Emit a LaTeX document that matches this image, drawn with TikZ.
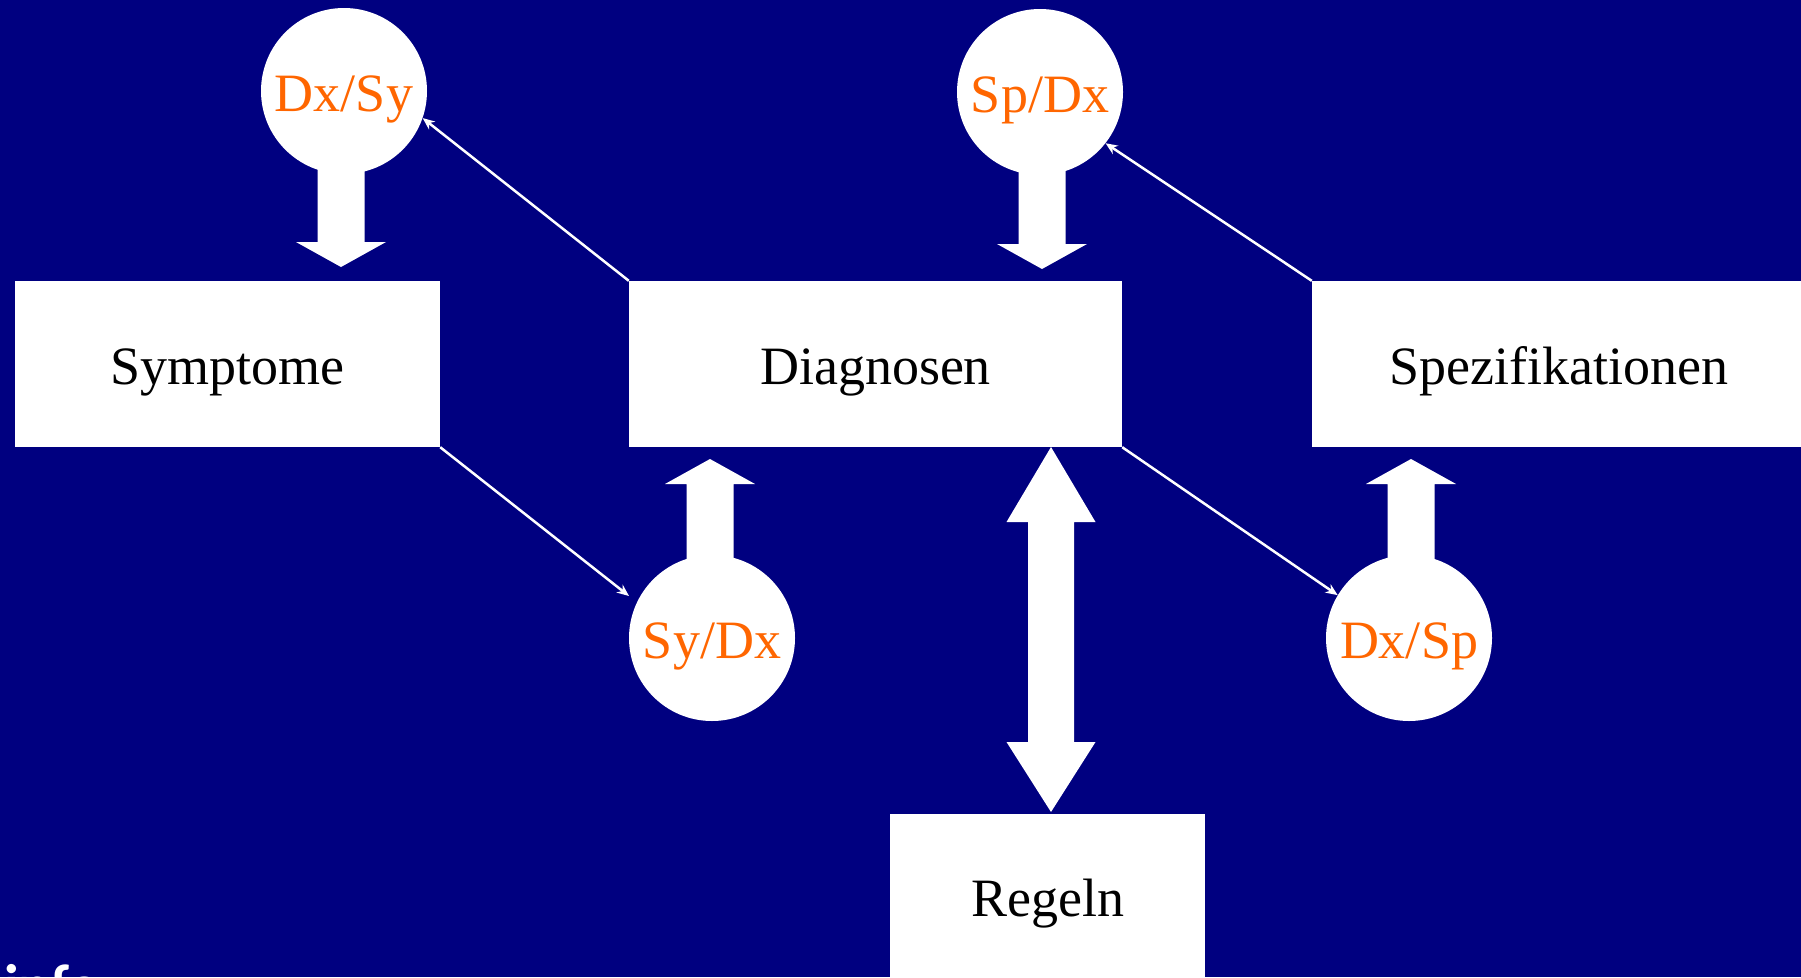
\documentclass[tikz,border=0pt]{standalone}
\usepackage{fontspec}
\setmainfont{Liberation Serif}
\newfontfamily\infofont{Carlito}
\usetikzlibrary{arrows.meta}
\definecolor{bg}{RGB}{0,0,128}
\definecolor{lbl}{RGB}{255,102,0}
\begin{document}
\begin{tikzpicture}[x=1pt,y=-1pt,
  box/.style={fill=white, inner sep=0pt, minimum height=166pt, font=\fontsize{54}{60}\selectfont, text=black, text height=41pt, text depth=0pt},
  bubble/.style={circle, fill=white, inner sep=0pt, minimum size=166pt, font=\fontsize{54}{60}\selectfont, text=lbl, text height=41pt, text depth=0pt},
  thin/.style={draw=white, line width=2.5pt, -{Stealth[length=12pt,width=10pt]}},
  blockarrow/.style={fill=white, draw=none}]
\useasboundingbox (0,0) rectangle (1801,977);
\fill[bg] (0,0) rectangle (1801,977);
\clip (0,0) rectangle (1801,977);

% block arrows
\fill[blockarrow] (317.5,165) -- (364.5,165) -- (364.5,242) -- (386,242) -- (341,267) -- (296,242) -- (317.5,242) -- cycle;
\fill[blockarrow] (1018.5,165) -- (1065.5,165) -- (1065.5,244) -- (1087,244) -- (1042,269) -- (997,244) -- (1018.5,244) -- cycle;
\fill[blockarrow] (686.5,565) -- (733.5,565) -- (733.5,484) -- (755,484) -- (710,459) -- (665,484) -- (686.5,484) -- cycle;
\fill[blockarrow] (1387.5,565) -- (1434.5,565) -- (1434.5,484) -- (1456,484) -- (1411,459) -- (1366,484) -- (1387.5,484) -- cycle;
\fill[blockarrow] (1051,447) -- (1095.5,522) -- (1074,522) -- (1074,742) -- (1095.5,742) -- (1051,812) -- (1006.5,742) -- (1028,742) -- (1028,522) -- (1006.5,522) -- cycle;

% boxes
\node[box, minimum width=425pt] (sym) at (227.5,364) {Symptome};
\node[box, minimum width=493pt] (dia) at (875.5,364) {Diagnosen};
\node[box, minimum width=494pt] (spe) at (1559,364) {Spezifikationen};
\node[box, minimum width=315pt, minimum height=170pt, text height=34pt] (reg) at (1047.5,899) {Regeln};

% circles
\node[bubble] (dxsy) at (344,91) {Dx/Sy};
\node[bubble] (spdx) at (1040,92) {Sp/Dx};
\node[bubble] (sydx) at (712,638) {Sy/Dx};
\node[bubble] (dxsp) at (1409,638) {Dx/Sp};

\coordinate (sydxin) at (629,596);

% thin arrows
\draw[thin] (dia.north west) -- (dxsy.-19);
\draw[thin] (spe.north west) -- (spdx.-38);
\draw[thin] (sym.south east) -- (sydxin);
\draw[thin] (dia.south east) -- (dxsp.149);

% cut-off logo text
\node[anchor=base west, inner sep=0pt, text=white, font=\infofont\bfseries\fontsize{60}{60}\selectfont] (info) at (4,1006) {info};
\end{tikzpicture}
\end{document}
